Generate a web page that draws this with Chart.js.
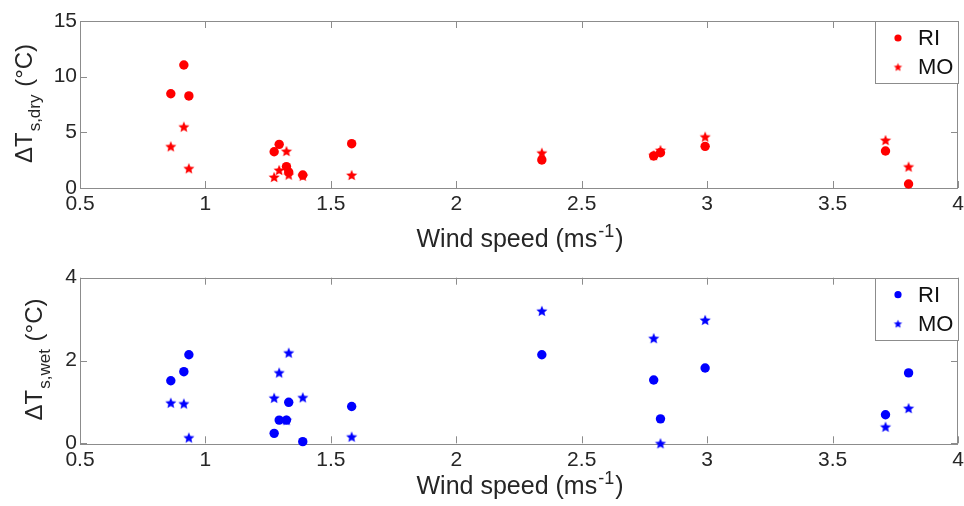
<!DOCTYPE html>
<html><head><meta charset="utf-8">
<script src="https://cdn.jsdelivr.net/npm/chart.js@4/dist/chart.umd.min.js"></script>
<style>
html,body{margin:0;padding:0;background:#fff;overflow:hidden;width:964px;height:506px}
canvas{position:absolute;left:0}
#c1{top:0}#c2{top:253px}
</style></head>
<body>
<canvas id="c1" width="964" height="253"></canvas>
<canvas id="c2" width="964" height="253"></canvas>
<script>
// ---- data ----
const windSpeed = [0.862, 0.914, 0.934, 1.274, 1.294, 1.323, 1.332, 1.388, 1.583, 2.341, 2.787, 2.814, 2.992, 3.711, 3.803];
const dryRI = [8.47, 11.05, 8.27, 3.26, 3.92, 1.92, 1.44, 1.17, 3.98, 2.52, 2.88, 3.17, 3.74, 3.32, 0.36];
const dryMO = [3.74, 5.51, 1.77, 0.99, 1.62, 3.32, 1.20, 1.10, 1.17, 3.17, 2.95, 3.41, 4.61, 4.31, 1.92];
const wetRI = [1.51, 1.73, 2.14, 0.24, 0.56, 0.56, 0.99, 0.04, 0.89, 2.14, 1.53, 0.59, 1.82, 0.69, 1.70];
const wetMO = [0.98, 0.96, 0.14, 1.10, 1.71, 0.56, 2.19, 1.11, 0.16, 3.20, 2.54, 0.00, 2.98, 0.40, 0.85];
const xTicks = [0.5, 1, 1.5, 2, 2.5, 3, 3.5, 4];
const dryTicks = [0, 5, 10, 15];
const wetTicks = [0, 2, 4];
const seriesNames = ['RI', 'MO'];
const xTitle = 'Wind speed (ms';
const xTitleSup = '-1';
const xTitleEnd = ')';

const FONT = '"Liberation Sans", Arial, sans-serif';
const GRAY = '#8c8c8c';
const TEXT = '#262626';

function starCanvas(color, R) {
  const s = Math.ceil(R * 2 + 2);
  const c = document.createElement('canvas');
  c.width = s; c.height = s;
  const g = c.getContext('2d');
  g.fillStyle = color;
  g.beginPath();
  for (let k = 0; k < 10; k++) {
    const r = k % 2 ? R * 0.45 : R;
    const a = -Math.PI / 2 + k * Math.PI / 5;
    const px = s / 2 + r * Math.cos(a), py = s / 2 + r * Math.sin(a) + R * 0.1;
    if (k) g.lineTo(px, py); else g.moveTo(px, py);
  }
  g.closePath(); g.fill();
  return c;
}

function makeChart(id, cfg) {
  const H = 253;
  const star = starCanvas(cfg.color, 5.8);
  const starSmall = starCanvas(cfg.color, 4.4);
  const decor = {
    id: 'decor' + id,
    beforeDatasetsDraw(chart) {
      const {ctx, chartArea: a, scales} = chart;
      ctx.save();
      ctx.strokeStyle = GRAY; ctx.lineWidth = 1;
      ctx.strokeRect(Math.round(a.left) + 0.5, Math.round(a.top) + 0.5, Math.round(a.right - a.left) - 1, Math.round(a.bottom - a.top));
      const TL = 7;
      ctx.beginPath();
      xTicks.forEach(v => {
        const px = Math.round(scales.x.getPixelForValue(v)) + 0.5;
        ctx.moveTo(px, a.bottom); ctx.lineTo(px, a.bottom - TL);
        ctx.moveTo(px, a.top); ctx.lineTo(px, a.top + TL);
      });
      cfg.yTicks.forEach(v => {
        const py = Math.round(scales.y.getPixelForValue(v)) + 0.5;
        ctx.moveTo(a.left, py); ctx.lineTo(a.left + TL, py);
        ctx.moveTo(a.right, py); ctx.lineTo(a.right - TL, py);
      });
      ctx.stroke();
      ctx.restore();
    },
    afterDraw(chart) {
      const {ctx, chartArea: a} = chart;
      ctx.save();
      ctx.fillStyle = TEXT;
      // x title
      ctx.font = '25px ' + FONT;
      ctx.textBaseline = 'alphabetic';
      const w1 = ctx.measureText(xTitle).width;
      ctx.font = '18px ' + FONT;
      const w2 = ctx.measureText(xTitleSup).width;
      ctx.font = '25px ' + FONT;
      const w3 = ctx.measureText(xTitleEnd).width;
      const cx = (a.left + a.right) / 2;
      let x0 = cx - (w1 + w2 + w3) / 2;
      ctx.fillText(xTitle, x0, cfg.xTitleY);
      ctx.font = '18px ' + FONT;
      ctx.fillText(xTitleSup, x0 + w1 + 1, cfg.xTitleY - 10);
      ctx.font = '25px ' + FONT;
      ctx.fillText(xTitleEnd, x0 + w1 + w2 + 2, cfg.xTitleY);
      // y title (rotated)
      const cy = (a.top + a.bottom) / 2;
      ctx.translate(cfg.yTitleX, cy);
      ctx.rotate(-Math.PI / 2);
      ctx.font = '24px ' + FONT;
      const p1 = '\u0394T', p3 = ' (\u00B0C)';
      const m1 = ctx.measureText(p1).width;
      const m3 = ctx.measureText(p3).width;
      ctx.font = '17px ' + FONT;
      const m2 = ctx.measureText(cfg.sub).width;
      let t = -(m1 + m2 + m3) / 2;
      ctx.font = '24px ' + FONT;
      ctx.fillText(p1, t, 0);
      ctx.font = '17px ' + FONT;
      ctx.fillText(cfg.sub, t + m1 + 1, 8);
      ctx.font = '24px ' + FONT;
      ctx.fillText(p3, t + m1 + m2 + 2, 0);
      ctx.setTransform(1, 0, 0, 1, 0, 0);
      // legend box
      const bw = 83, bh = 62;
      const bx = Math.round(a.right - bw) + 0.5, by = Math.round(a.top) + 0.5;
      ctx.fillStyle = '#fff';
      ctx.fillRect(bx, by, bw, bh);
      ctx.strokeStyle = GRAY; ctx.lineWidth = 1;
      ctx.strokeRect(bx, by, bw, bh);
      const mx = a.right - 60;
      const rows = [a.top + 17, a.top + 46];
      ctx.fillStyle = cfg.color;
      ctx.beginPath(); ctx.arc(mx, rows[0], 3.6, 0, Math.PI * 2); ctx.fill();
      ctx.drawImage(starSmall, mx - starSmall.width / 2, rows[1] - starSmall.height / 2);
      ctx.fillStyle = '#111';
      ctx.font = '22px ' + FONT;
      ctx.textBaseline = 'middle';
      ctx.fillText(seriesNames[0], a.right - 40, rows[0] + 1);
      ctx.fillText(seriesNames[1], a.right - 40, rows[1] + 1);
      ctx.restore();
    }
  };
  return new Chart(document.getElementById(id), {
    type: 'scatter',
    data: {
      datasets: [
        { label: seriesNames[0], data: windSpeed.map((x, i) => ({x, y: cfg.ri[i]})),
          pointStyle: 'circle', pointRadius: 4.7, pointHoverRadius: 4.7,
          backgroundColor: cfg.color, borderColor: cfg.color, borderWidth: 0, clip: false },
        { label: seriesNames[1], data: windSpeed.map((x, i) => ({x, y: cfg.mo[i]})),
          pointStyle: star, pointRadius: 5, backgroundColor: cfg.color, borderColor: cfg.color, clip: false }
      ]
    },
    options: {
      responsive: false, animation: false, devicePixelRatio: 1,
      events: [],
      layout: { padding: { top: cfg.top, right: 5, left: 0, bottom: 0 } },
      plugins: { legend: { display: false }, tooltip: { enabled: false } },
      scales: {
        x: {
          type: 'linear', min: xTicks[0], max: xTicks[xTicks.length - 1],
          afterBuildTicks: s => { s.ticks = xTicks.map(v => ({value: v})); },
          afterFit: s => { s.height = H - cfg.bottom; s.paddingLeft = 0; s.paddingRight = 0; },
          grid: { display: false, drawTicks: false, tickLength: 0 },
          border: { display: false },
          ticks: { color: TEXT, font: { family: FONT, size: 21 }, padding: 4, maxRotation: 0, autoSkip: false,
                   callback: v => String(v) }
        },
        y: {
          type: 'linear', min: cfg.yTicks[0], max: cfg.yTicks[cfg.yTicks.length - 1],
          afterBuildTicks: s => { s.ticks = cfg.yTicks.map(v => ({value: v})); },
          afterFit: s => { s.width = 80; s.paddingTop = 0; s.paddingBottom = 0; },
          grid: { display: false, drawTicks: false, tickLength: 0 },
          border: { display: false },
          ticks: { color: TEXT, font: { family: FONT, size: 21 }, padding: 3, autoSkip: false,
                   callback: v => String(v) }
        }
      }
    },
    plugins: [decor]
  });
}

makeChart('c1', { ri: dryRI, mo: dryMO, color: '#ff0000', yTicks: dryTicks, sub: 's,dry',
  top: 21, bottom: 188, xTitleY: 247, yTitleX: 32 });
makeChart('c2', { ri: wetRI, mo: wetMO, color: '#0000ff', yTicks: wetTicks, sub: 's,wet',
  top: 24.7, bottom: 190.3, xTitleY: 241, yTitleX: 42 });
</script>
</body></html>
